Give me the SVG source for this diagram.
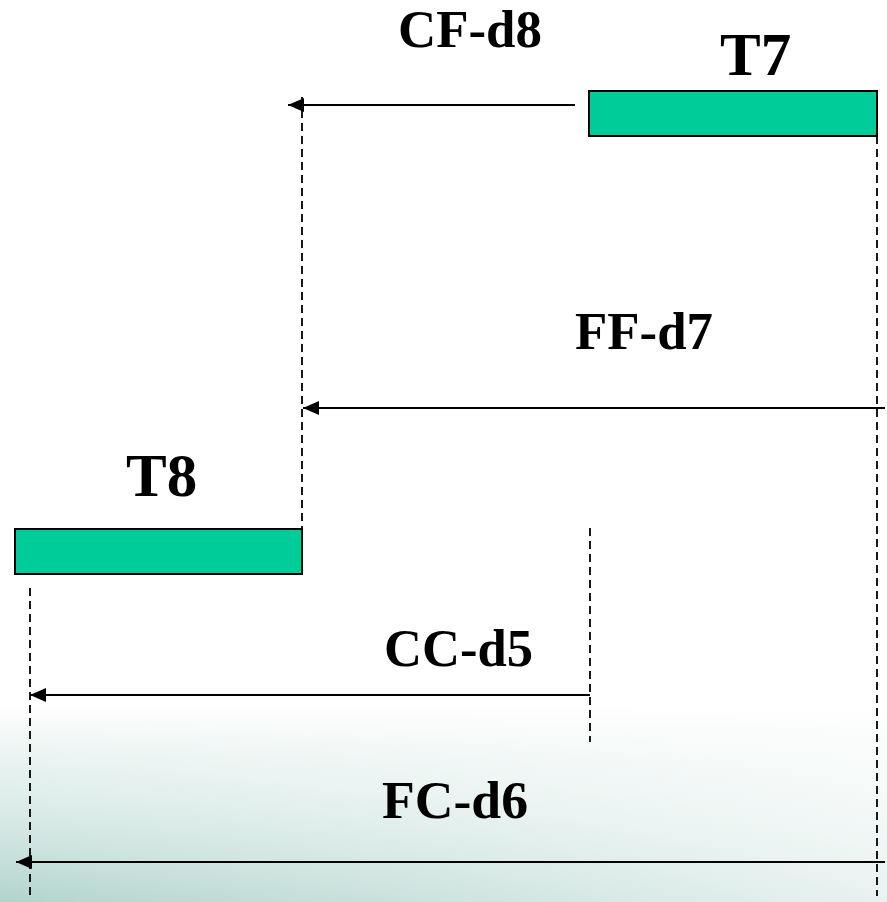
<svg xmlns="http://www.w3.org/2000/svg" width="887" height="902" viewBox="0 0 887 902">
  <defs>
    <linearGradient id="tintV" x1="0" y1="0" x2="0" y2="1">
      <stop offset="0" stop-color="#b4d6cf" stop-opacity="0"/>
      <stop offset="0.45" stop-color="#c6e0db" stop-opacity="0.55"/>
      <stop offset="1" stop-color="#b2d4cd" stop-opacity="1"/>
    </linearGradient>
    <linearGradient id="fadeH" x1="0" y1="0" x2="1" y2="0">
      <stop offset="0" stop-color="#ffffff" stop-opacity="0"/>
      <stop offset="0.5" stop-color="#ffffff" stop-opacity="0.35"/>
      <stop offset="1" stop-color="#ffffff" stop-opacity="0.7"/>
    </linearGradient>
    <!-- left-pointing head, tip at the line start -->
    <marker id="head" viewBox="0 0 16 14" refX="0" refY="7" markerWidth="16" markerHeight="14" markerUnits="userSpaceOnUse" orient="auto">
      <path d="M0,7 L16,0 L16,14 Z" fill="#000"/>
    </marker>
  </defs>
  <style>
    .bar { fill: #00cc99; stroke: #000; stroke-width: 2; }
    .guide { stroke: #000; stroke-width: 1.8; stroke-dasharray: 8 5; fill: none; }
    .arrow { stroke: #000; stroke-width: 2.2; fill: none; marker-start: url(#head); }
    .lbl { font-family: "Liberation Serif", "Times New Roman", serif; font-weight: bold; fill: #000; }
    .task { font-size: 61px; }
    .dep { font-size: 52px; }
  </style>

  <!-- background with soft tint in the lower part -->
  <rect x="0" y="0" width="887" height="902" fill="#ffffff"/>
  <rect x="0" y="705" width="887" height="197" fill="url(#tintV)"/>
  <rect x="0" y="705" width="887" height="197" fill="url(#fadeH)"/>

  <!-- tasks -->
  <g id="T7">
    <rect class="bar" x="589" y="91" width="288" height="45"/>
    <text class="lbl task" x="720" y="75">T7</text>
  </g>
  <g id="T8">
    <rect class="bar" x="15" y="529" width="287" height="45"/>
    <text class="lbl task" x="126" y="496">T8</text>
  </g>

  <!-- dependency connectors and guides -->
  <g id="connectors">
    <line class="guide" x1="302" y1="97" x2="302" y2="529"/>
    <line class="guide" x1="877" y1="136" x2="877" y2="896"/>
    <line class="guide" x1="30" y1="588" x2="30" y2="896"/>
    <line class="guide" x1="590" y1="528" x2="590" y2="742"/>

    <line class="arrow" x1="288" y1="105" x2="575" y2="105"/>
    <line class="arrow" x1="303" y1="408" x2="885" y2="408"/>
    <line class="arrow" x1="30" y1="695" x2="590" y2="695"/>
    <line class="arrow" x1="16" y1="862" x2="885" y2="862"/>
  </g>

  <g id="labels">
    <text class="lbl dep" x="398" y="47" textLength="144" lengthAdjust="spacingAndGlyphs">CF-d8</text>
    <text class="lbl dep" x="575" y="349" textLength="138" lengthAdjust="spacingAndGlyphs">FF-d7</text>
    <text class="lbl dep" x="384" y="666" textLength="149" lengthAdjust="spacingAndGlyphs">CC-d5</text>
    <text class="lbl dep" x="382" y="818" textLength="146" lengthAdjust="spacingAndGlyphs">FC-d6</text>
  </g>
</svg>
